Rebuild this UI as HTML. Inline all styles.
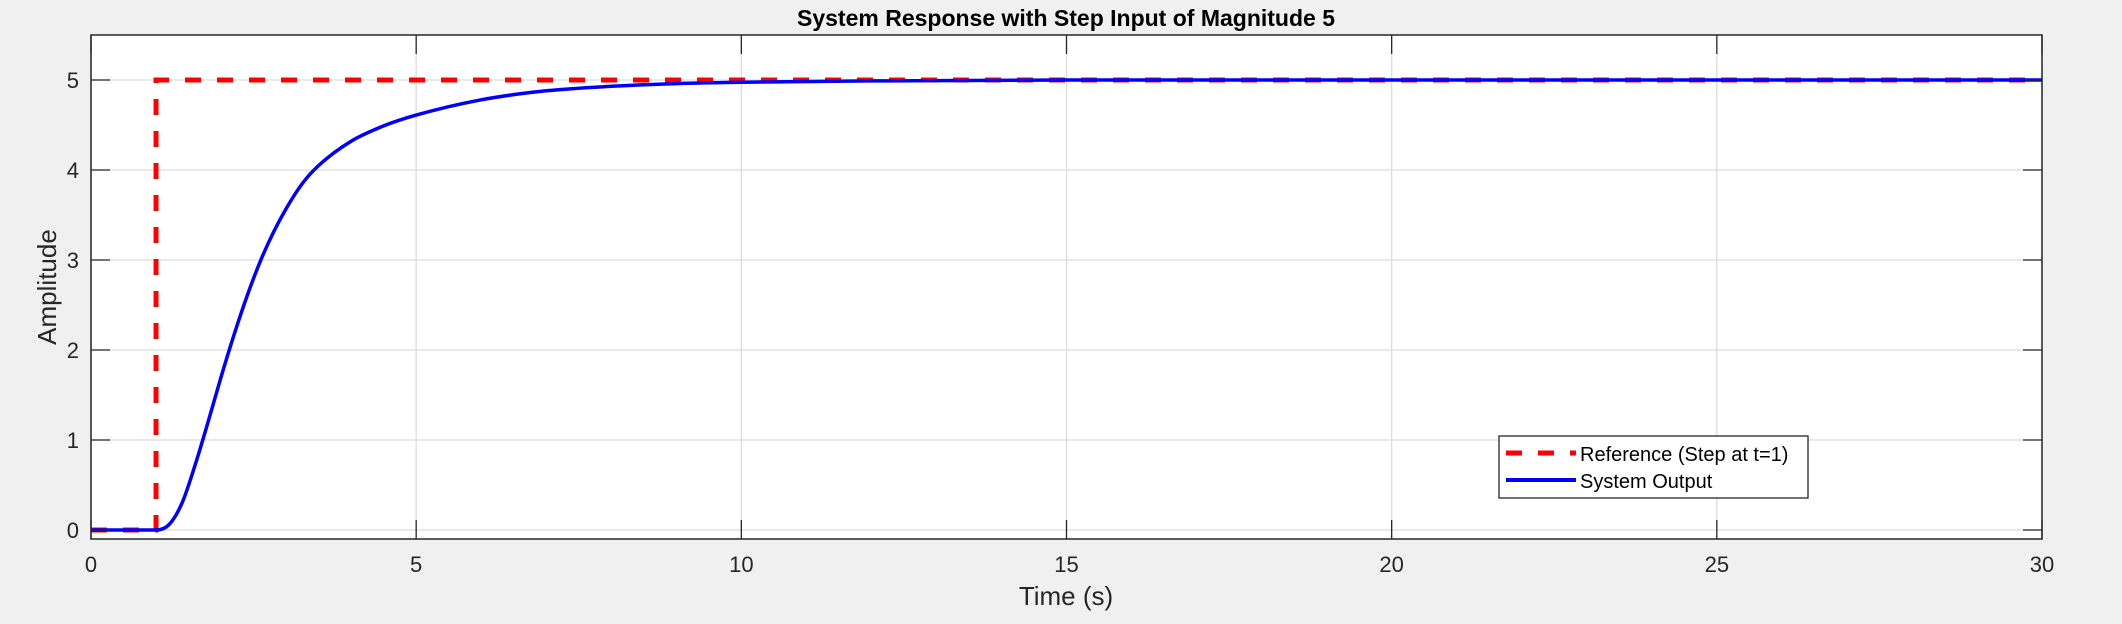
<!DOCTYPE html>
<html><head><meta charset="utf-8"><style>
body{margin:0;background:#f0f0f0;}
svg{display:block;font-family:"Liberation Sans",sans-serif;}
</style></head><body>
<svg id="chart" width="2122" height="624">
<rect x="0" y="0" width="2122" height="624" fill="#f0f0f0"/>
<rect x="91" y="35" width="1951" height="504" fill="#fff"/>
<g id="grid"></g><g id="series"></g><g id="axes"></g>
<text x="1066" y="26" text-anchor="middle" font-size="23" font-weight="bold" fill="#000">System Response with Step Input of Magnitude 5</text>
<text x="1066" y="605" text-anchor="middle" font-size="26" fill="#262626">Time (s)</text>
<text transform="translate(56,287) rotate(-90)" text-anchor="middle" font-size="26" fill="#262626">Amplitude</text>
<g>
<rect x="1499" y="436" width="309" height="62" fill="#fff" stroke="#262626" stroke-width="1.3"/>
<line x1="1506" y1="453" x2="1576" y2="453" stroke="#f00" stroke-width="5" stroke-dasharray="16,16"/>
<text x="1580" y="461" font-size="20" fill="#000">Reference (Step at t=1)</text>
<line x1="1506" y1="480" x2="1576" y2="480" stroke="#00f" stroke-width="4"/>
<text x="1580" y="488" font-size="20" fill="#000">System Output</text>
</g>
</svg>
<script>
const xTicks=[0,5,10,15,20,25,30];
const yTicks=[0,1,2,3,4,5];
const refT=[0,1,1,30];
const refY=[0,0,5,5];
const outT=[0,1,1.2,1.4,1.6,1.8,2.0,2.2,2.4,2.6,2.8,3.0,3.25,3.5,4.0,4.5,5.0,6.0,7.0,8.0,9,10,12,15,20,30];
const outY=[0,0,0.06,0.3,0.72,1.2,1.7,2.17,2.6,2.98,3.3,3.57,3.85,4.05,4.32,4.49,4.61,4.78,4.88,4.93,4.96,4.975,4.99,5,5,5];
const L=91,R=2042,T=35,B=539,xmin=0,xmax=30,ymin=-0.1,ymax=5.5;
const sx=v=>L+(v-xmin)/(xmax-xmin)*(R-L);
const sy=v=>B-(v-ymin)/(ymax-ymin)*(B-T);
const NS="http://www.w3.org/2000/svg";
function mk(tag,attrs,parent){const e=document.createElementNS(NS,tag);for(const k in attrs)e.setAttribute(k,attrs[k]);parent.appendChild(e);return e;}
const grid=document.getElementById('grid'),axes=document.getElementById('axes'),series=document.getElementById('series');
xTicks.forEach(v=>{
 const g=mk('line',{x1:sx(v),x2:sx(v),y1:T,y2:B,stroke:'#dcdcdc','stroke-width':1.3},grid);
 
 
 const t1=mk('line',{x1:sx(v),x2:sx(v),y1:B,y2:B-19,stroke:'#262626','stroke-width':1.3},axes);
 
 
 const t2=mk('line',{x1:sx(v),x2:sx(v),y1:T,y2:T+19,stroke:'#262626','stroke-width':1.3},axes);
 
 
 const lb=mk('text',{x:sx(v),y:B+33,'text-anchor':'middle','font-size':22,fill:'#262626'},axes);
 lb.textContent=v;
 
 
});
yTicks.forEach(v=>{
 const g=mk('line',{x1:L,x2:R,y1:sy(v),y2:sy(v),stroke:'#dcdcdc','stroke-width':1.3},grid);
 
 
 const t1=mk('line',{x1:L,x2:L+19,y1:sy(v),y2:sy(v),stroke:'#262626','stroke-width':1.3},axes);
 
 
 const t2=mk('line',{x1:R,x2:R-19,y1:sy(v),y2:sy(v),stroke:'#262626','stroke-width':1.3},axes);
 
 
 const lb=mk('text',{x:L-12,y:sy(v)+8,'text-anchor':'end','font-size':22,fill:'#262626'},axes);
 lb.textContent=v;
 
 
});
const box=mk('rect',{x:L,y:T,width:R-L,height:B-T,fill:'none',stroke:'#262626','stroke-width':1.5},axes);


const ref=mk('polyline',{points:refT.map((t,i)=>sx(t)+','+sy(refY[i])).join(' '),fill:'none',stroke:'#f00','stroke-width':5,'stroke-dasharray':'16,16'},series);


function smoothPath(xs,ys){
 const n=xs.length,d=[],m=[];
 for(let i=0;i<n-1;i++)d.push((ys[i+1]-ys[i])/(xs[i+1]-xs[i]));
 m[0]=d[0];m[n-1]=d[n-2];
 for(let i=1;i<n-1;i++){m[i]=(d[i-1]*d[i]<=0)?0:(d[i-1]+d[i])/2;}
 for(let i=0;i<n-1;i++){if(d[i]===0){m[i]=0;m[i+1]=0;continue;}const a=m[i]/d[i],b=m[i+1]/d[i],s=a*a+b*b;if(s>9){const t=3/Math.sqrt(s);m[i]=t*a*d[i];m[i+1]=t*b*d[i];}}
 let p='M'+sx(xs[0])+','+sy(ys[0]);
 for(let i=0;i<n-1;i++){const h=(xs[i+1]-xs[i])/3;
  p+=' C'+sx(xs[i]+h)+','+sy(ys[i]+m[i]*h)+' '+sx(xs[i+1]-h)+','+sy(ys[i+1]-m[i+1]*h)+' '+sx(xs[i+1])+','+sy(ys[i+1]);}
 return p;
}
const out=mk('path',{d:smoothPath(outT,outY),fill:'none',stroke:'#00f','stroke-width':3.5,'stroke-linejoin':'round'},series);


</script>
</body></html>
